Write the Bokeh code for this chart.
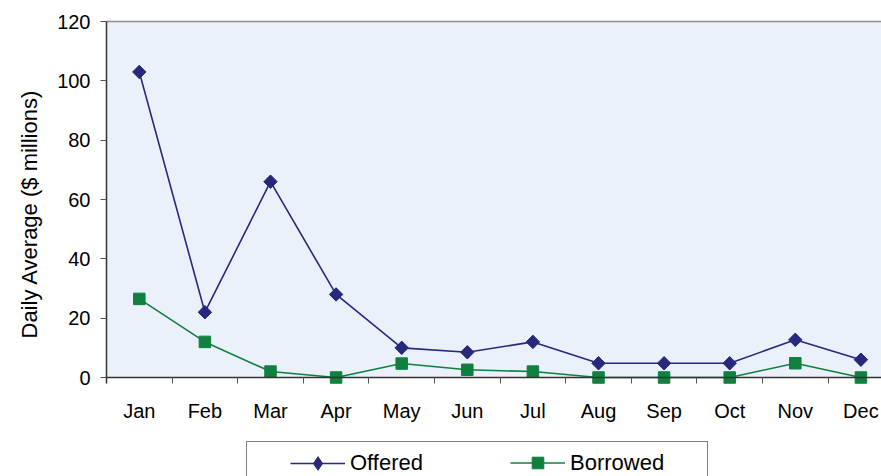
import math
from bokeh.plotting import figure
from bokeh.models import (Range1d, FixedTicker, LinearAxis, BoxAnnotation,
                          Legend, LegendItem, Title)
from bokeh.embed import file_html
from bokeh.resources import INLINE

months = ["Jan", "Feb", "Mar", "Apr", "May", "Jun", "Jul", "Aug", "Sep", "Oct", "Nov", "Dec"]
offered = [103, 22, 66, 28, 10, 8.5, 12, 4.8, 4.8, 4.8, 12.7, 6]
borrowed = [26.5, 12, 2, 0, 4.7, 2.6, 2, 0, 0, 0, 4.8, 0]
y_ticks = [0, 20, 40, 60, 80, 100, 120]
y_label = "Daily Average ($ millions)"
series_names = ["Offered", "Borrowed"]

xs = list(range(len(months)))

NAVY = "#28287C"
GREEN = "#10803F"
FONT = "Liberation Sans"

W, H = 881, 476
LEFT, TOP = 106, 21
PX_PER_UNIT = 356 / 120.0
Y_START = (377 - H) / PX_PER_UNIT
X_END = -0.5 + (W - LEFT) / 65.6

p = figure(width=W, height=H, output_backend="svg", toolbar_location=None,
           x_range=Range1d(-0.5, X_END), y_range=Range1d(Y_START, 120),
           min_border_left=LEFT, min_border_right=0, min_border_top=TOP,
           min_border_bottom=0, x_axis_type=None, y_axis_type=None)
p.outline_line_color = None
p.background_fill_color = "white"
p.border_fill_color = "white"
p.grid.visible = False

# plot area shading (from 0 to top)
p.add_layout(BoxAnnotation(bottom=0, fill_color="#EAF1FA", fill_alpha=1.0,
                           line_color=None, level="underlay"))

# y axis
yax = LinearAxis(ticker=FixedTicker(ticks=y_ticks), bounds=(-6 / PX_PER_UNIT, 120))
yax.axis_line_color = "#333333"
yax.axis_line_width = 1.5
yax.major_tick_line_color = "#555555"
yax.major_tick_out = 6
yax.major_tick_in = 0
yax.minor_tick_out = 0
yax.minor_tick_in = 0
yax.major_label_standoff = 10
yax.major_label_text_font = FONT
yax.major_label_text_font_size = "20px"
yax.major_label_text_color = "black"
p.add_layout(yax, "left")

# y axis title, anchored at its start so it sits beside the 0..120 scale
ytitle = Title(text=y_label, align="left", offset=138, standoff=26,
               text_font=FONT, text_font_size="22px", text_font_style="normal",
               text_color="black")
p.add_layout(ytitle, "left")

# x axis at y = 0: labels at month centres, ticks between months
xax = LinearAxis(ticker=FixedTicker(ticks=xs, minor_ticks=[i - 0.5 for i in range(len(months) + 1)]),
                 fixed_location=0)
xax.major_label_overrides = {i: m for i, m in enumerate(months)}
xax.axis_line_color = "#333333"
xax.axis_line_width = 1.5
xax.major_tick_out = 0
xax.major_tick_in = 0
xax.minor_tick_out = 6
xax.minor_tick_in = 0
xax.minor_tick_line_color = "#555555"
xax.major_label_standoff = 16
xax.major_label_text_font = FONT
xax.major_label_text_font_size = "20px"
xax.major_label_text_color = "black"
p.add_layout(xax, "below")

# top border line
tax = LinearAxis(ticker=FixedTicker(ticks=[]))
tax.axis_line_color = "#8C8C8C"
tax.axis_line_width = 1.5
tax.major_tick_out = 0
tax.major_tick_in = 0
tax.minor_tick_out = 0
tax.minor_tick_in = 0
tax.major_label_text_font_size = "0px"
p.add_layout(tax, "above")

# series
l1 = p.line(xs, offered, line_color=NAVY, line_width=1.6)
m1 = p.scatter(xs, offered, marker="square", angle=math.pi / 4, size=9.5,
               fill_color=NAVY, line_color=NAVY)
# diamond drawn inside the rotated square (same colour); used for the legend key
key_diamond = p.scatter(xs, offered, marker="diamond", size=12.5,
                        fill_color=NAVY, line_color=NAVY)
l2 = p.line(xs, borrowed, line_color=GREEN, line_width=1.6)
m2 = p.scatter(xs, borrowed, marker="square", size=11.5,
               fill_color=GREEN, line_color=GREEN)

# legend frame (box only)
dummy = p.line(x=[], y=[], line_alpha=0)
box_legend = Legend(items=[LegendItem(label=" ", renderers=[dummy])],
                    location=(140, -27), orientation="horizontal",
                    padding=0, margin=0, spacing=0, glyph_width=20, glyph_height=60,
                    label_height=60, label_width=440, label_standoff=0,
                    border_line_color="black", border_line_width=1,
                    background_fill_color="white", background_fill_alpha=1.0)
p.add_layout(box_legend, "center")

common = dict(orientation="horizontal", padding=0, margin=0, spacing=0,
              glyph_width=55, label_standoff=5, border_line_color=None,
              background_fill_alpha=0, label_text_font=FONT,
              label_text_font_size="22px", label_text_color="black")

leg_off = Legend(items=[LegendItem(label=series_names[0], renderers=[l1, key_diamond])],
                 location=(184, -4), glyph_height=34, label_height=34, **common)
p.add_layout(leg_off, "center")

leg_bor = Legend(items=[LegendItem(label=series_names[1], renderers=[l2, m2])],
                 location=(404, -1), glyph_height=29, label_height=29, **common)
p.add_layout(leg_bor, "center")

open("out.html", "w").write(file_html(p, INLINE))
